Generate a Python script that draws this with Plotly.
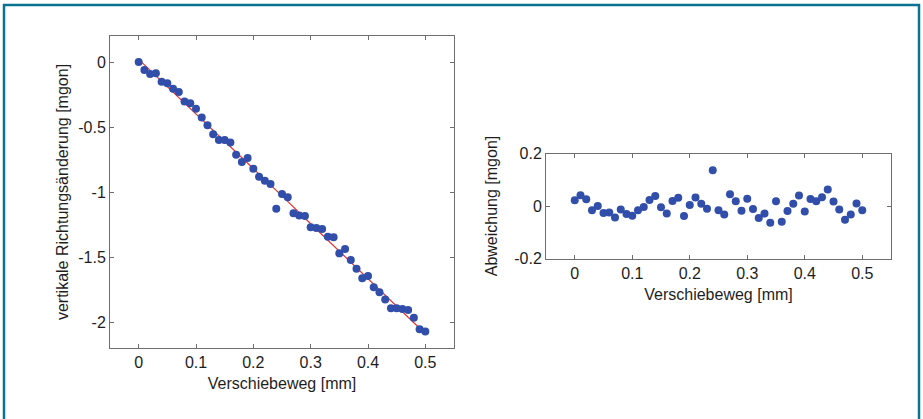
import plotly.graph_objects as go

# shift [mm]
shift = [0.00, 0.01, 0.02, 0.03, 0.04, 0.05, 0.06, 0.07, 0.08, 0.09,
         0.10, 0.11, 0.12, 0.13, 0.14, 0.15, 0.16, 0.17, 0.18, 0.19,
         0.20, 0.21, 0.22, 0.23, 0.24, 0.25, 0.26, 0.27, 0.28, 0.29,
         0.30, 0.31, 0.32, 0.33, 0.34, 0.35, 0.36, 0.37, 0.38, 0.39,
         0.40, 0.41, 0.42, 0.43, 0.44, 0.45, 0.46, 0.47, 0.48, 0.49, 0.50]

# measured vertical direction change [mgon]
measured = [0.000, -0.062, -0.092, -0.087, -0.151, -0.164, -0.205, -0.231, -0.303, -0.318,
            -0.359, -0.426, -0.487, -0.556, -0.600, -0.600, -0.620, -0.713, -0.769, -0.738,
            -0.821, -0.882, -0.913, -0.938, -1.128, -1.015, -1.041, -1.164, -1.180, -1.185,
            -1.272, -1.277, -1.285, -1.344, -1.349, -1.472, -1.438, -1.523, -1.590, -1.664,
            -1.646, -1.733, -1.772, -1.826, -1.895, -1.895, -1.900, -1.908, -1.967, -2.056,
            -2.074]

# fitted curve (red line)
fit_x = [0.00, 0.05, 0.10, 0.15, 0.20, 0.25, 0.30, 0.35, 0.40, 0.45, 0.50]
fit_y = [0.020, -0.190, -0.400, -0.605, -0.817, -1.030, -1.244, -1.454, -1.667, -1.878, -2.090]

# deviation [mgon]
deviation = [0.022, 0.041, 0.026, -0.016, 0.000, -0.027, -0.025, -0.044, -0.013, -0.030,
             -0.037, -0.016, -0.004, 0.023, 0.038, -0.005, -0.029, 0.019, 0.031, -0.038,
             0.004, 0.032, 0.009, -0.010, 0.136, -0.016, -0.032, 0.045, 0.018, -0.018,
             0.028, -0.011, -0.046, -0.029, -0.064, 0.018, -0.060, -0.019, 0.009, 0.040,
             -0.021, 0.027, 0.018, 0.033, 0.063, 0.017, -0.013, -0.052, -0.032, 0.010,
             -0.016]

x_ticks = [0, 0.1, 0.2, 0.3, 0.4, 0.5]
x_ticktext = ["0", "0.1", "0.2", "0.3", "0.4", "0.5"]
y1_ticks = [0, -0.5, -1, -1.5, -2]
y1_ticktext = ["0", "-0.5", "-1", "-1.5", "-2"]
y2_ticks = [0.2, 0, -0.2]
y2_ticktext = ["0.2", "0", "-0.2"]

W, H = 923, 419
BLUE = "rgb(48,78,170)"
RED = "rgb(230,50,50)"
AX = "rgb(110,110,110)"
TXT = "rgb(30,30,30)"
FONT = "Liberation Sans, Arial, sans-serif"
FS = 16

fig = go.Figure()
fig.add_trace(go.Scatter(x=fit_x, y=fit_y, mode="lines",
                         line=dict(color=RED, width=1.2), xaxis="x", yaxis="y",
                         showlegend=False, hoverinfo="skip"))
fig.add_trace(go.Scatter(x=shift, y=measured, mode="markers",
                         marker=dict(color=BLUE, size=8), xaxis="x", yaxis="y",
                         showlegend=False))
fig.add_trace(go.Scatter(x=shift, y=deviation, mode="markers",
                         marker=dict(color=BLUE, size=8), xaxis="x2", yaxis="y2",
                         showlegend=False))

def px_x(p):
    return p / W

def px_y(p):
    return 1 - p / H

common = dict(showline=True, linecolor=AX, linewidth=1, mirror="ticks",
              ticks="inside", ticklen=4, tickcolor=AX, showgrid=False,
              zeroline=False, automargin=False,
              tickfont=dict(family=FONT, size=FS, color=TXT))
tfont = dict(family=FONT, size=FS, color=TXT)

fig.update_layout(
    width=W, height=H,
    margin=dict(l=0, r=0, t=0, b=0),
    paper_bgcolor="white", plot_bgcolor="white",
    font=dict(family=FONT, size=FS, color=TXT),
    xaxis=dict(domain=[px_x(110), px_x(454)], range=[-0.05, 0.55],
               tickvals=x_ticks, ticktext=x_ticktext,
               title=dict(text="Verschiebeweg [mm]", standoff=7, font=tfont),
               anchor="y", **common),
    yaxis=dict(domain=[px_y(348), px_y(36)], range=[-2.2, 0.2],
               tickvals=y1_ticks, ticktext=y1_ticktext,
               title=dict(text="vertikale Richtungsänderung [mgon]", standoff=5, font=tfont),
               anchor="x", **common),
    xaxis2=dict(domain=[px_x(546), px_x(891)], range=[-0.05, 0.55],
                tickvals=x_ticks, ticktext=x_ticktext,
                title=dict(text="Verschiebeweg [mm]", standoff=8, font=tfont),
                anchor="y2", **common),
    yaxis2=dict(domain=[px_y(258.5), px_y(153.5)], range=[-0.2, 0.2],
                tickvals=y2_ticks, ticktext=y2_ticktext,
                title=dict(text="Abweichung [mgon]", standoff=12, font=tfont),
                anchor="x2", **common),
    shapes=[dict(type="rect", xref="paper", yref="paper",
                 x0=px_x(4), x1=px_x(919), y0=-0.05, y1=px_y(5),
                 line=dict(color="rgb(10,115,145)", width=2.5),
                 fillcolor="rgba(0,0,0,0)")],
)

fig.write_html("out.html", config={"displayModeBar": False},
               post_script="document.body.style.margin='0';document.body.style.overflow='hidden';")
